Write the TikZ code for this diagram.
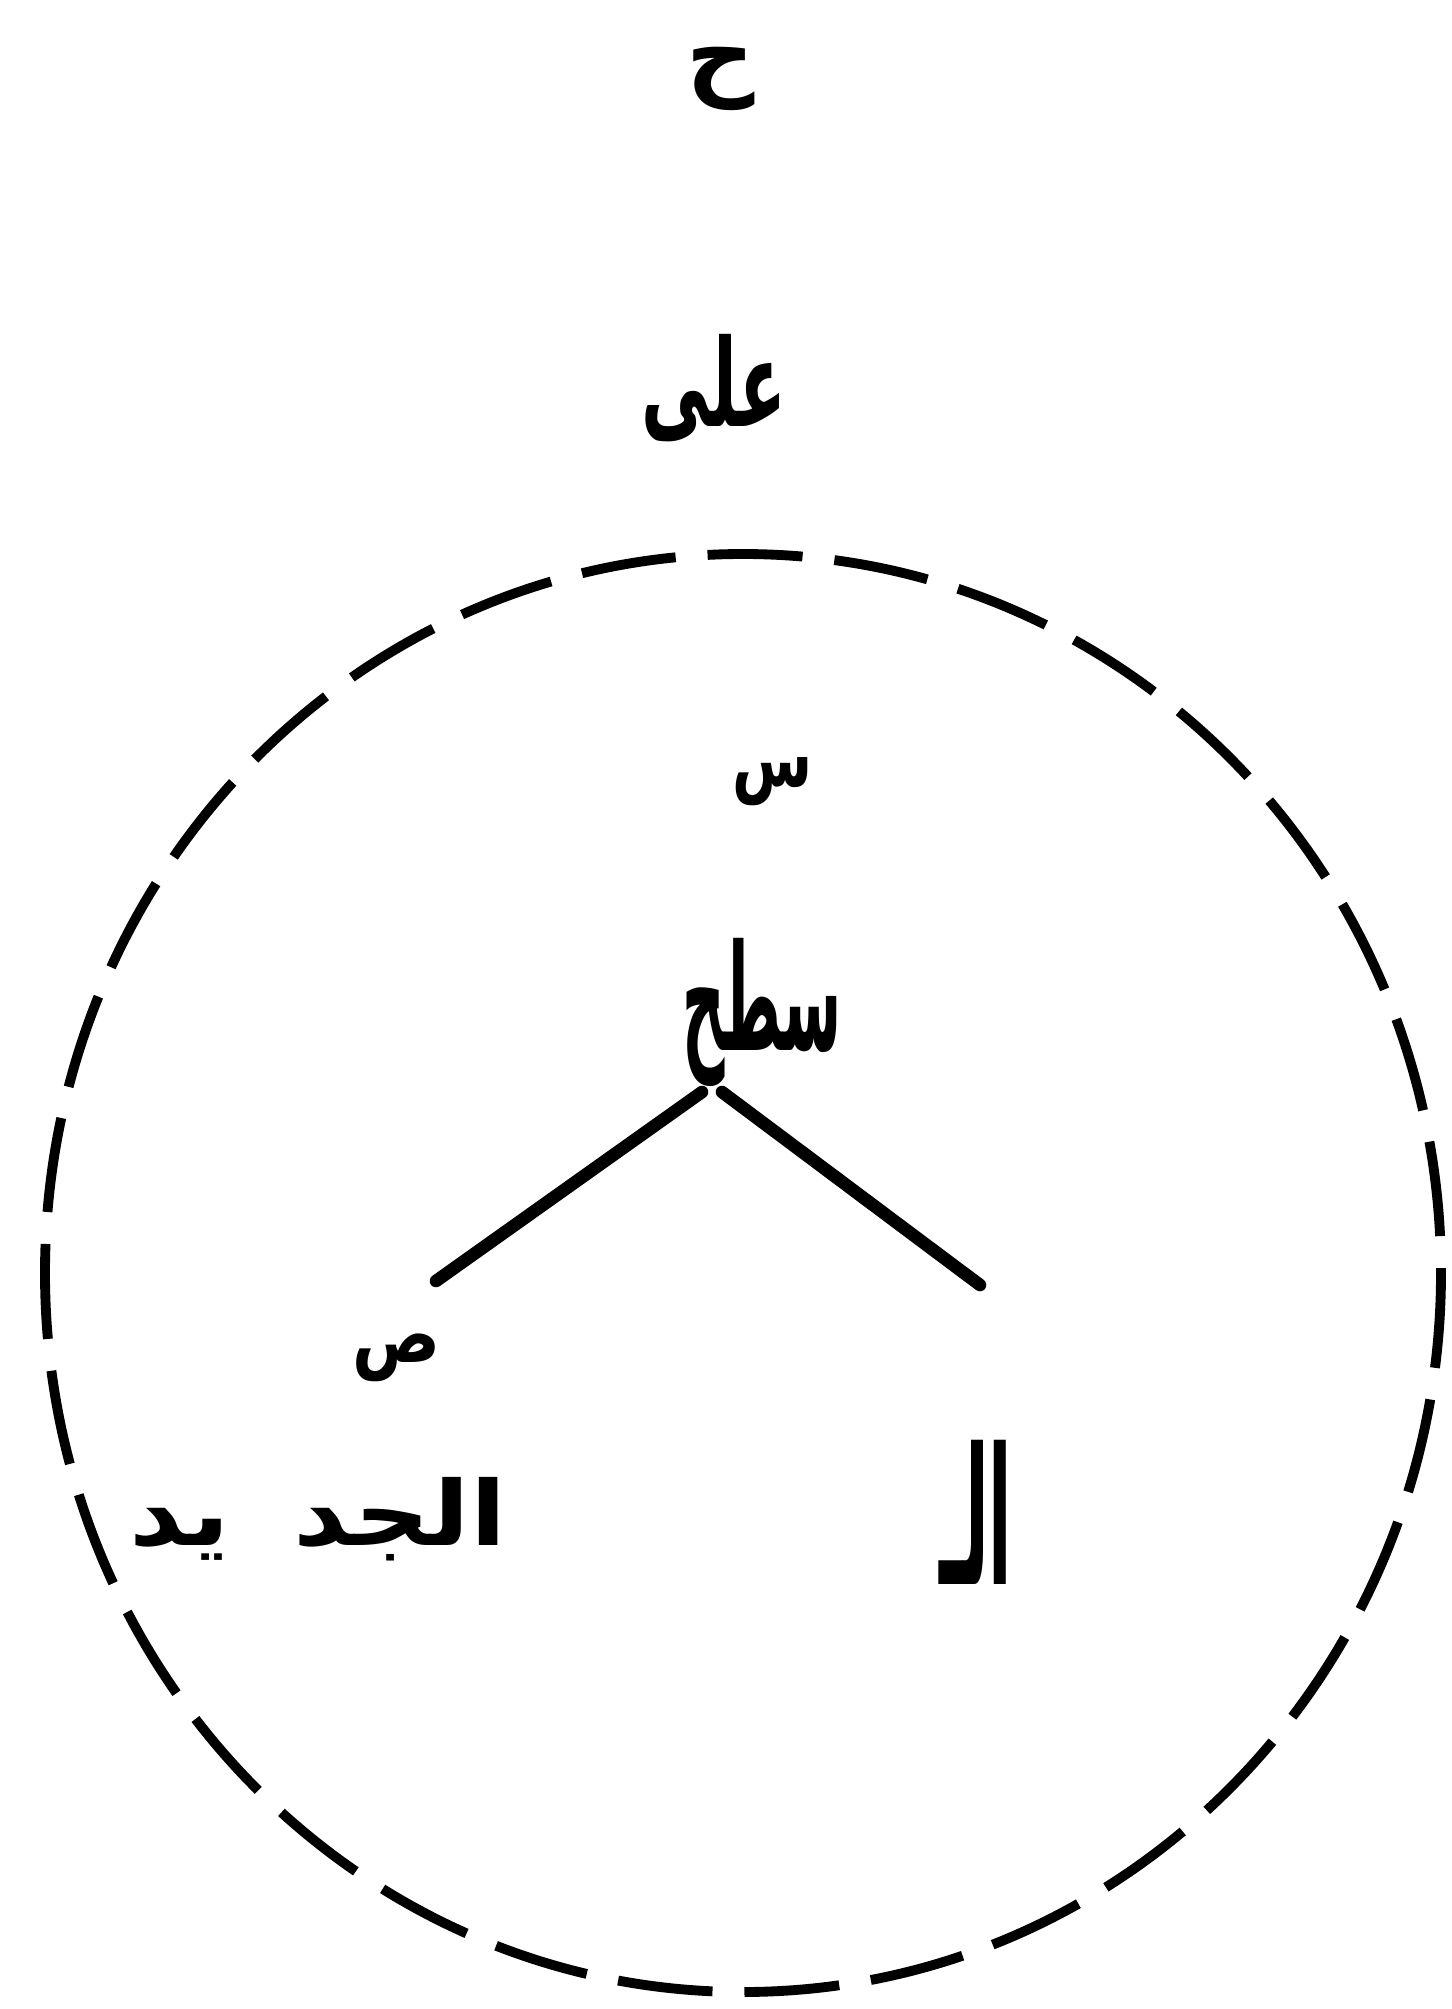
\documentclass[tikz,border=0pt]{standalone}
\usepackage{fontspec}
\usepackage{graphicx}
\usepackage{tikz}
\usetikzlibrary{calc}
\TeXXeTstate=1
\newfontfamily\arabicfont[Script=Arabic]{DejaVu Sans}
\newcommand{\artxt}[3]{\scalebox{#1}[#2]{\beginR #3\endR}}

\begin{document}
\begin{tikzpicture}[x=0.01cm,y=-0.01cm,
  lbl/.style={inner sep=0pt,font=\arabicfont\bfseries\fontsize{30}{36}\selectfont},
  edge/.style={line width=3.6pt,line cap=round},
  ring/.style={line width=2.8pt,dash pattern=on 0.95cm off 0.32cm}]
\useasboundingbox (0,0) rectangle (1452,2009);
\node[lbl](hrf) at (721,79){\artxt{0.9}{0.9}{ح}};
\node[lbl](ala) at (714,388){\artxt{0.65}{1.15}{على}};
\draw[ring] (743,1273) ellipse [x radius=698,y radius=719];
\node[lbl](sin) at (773,782){\artxt{0.55}{0.75}{س}};
\node[lbl](sath) at (762,1012){\artxt{0.56}{1.4}{سطح}};
\node[lbl](sad) at (396,1358){\artxt{0.62}{0.75}{ص}};
\node[lbl](jadid) at (318,1519){\artxt{1}{0.85}{الجد\hspace{0.6em}يد}};
\node[lbl](al) at (976,1512){\artxt{0.65}{1.8}{الـ}};
\draw[edge] ($(sath)+(-60,80)$)--($(sad)+(40,-77)$);
\draw[edge] ($(sath)+(-40,80)$)--($(al)+(4,-227)$);
\end{tikzpicture}
\end{document}
